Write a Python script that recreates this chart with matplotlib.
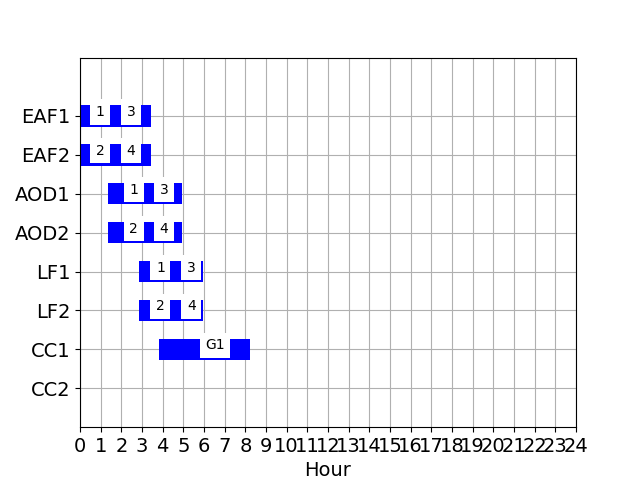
from matplotlib import pyplot as plt

# rows from top to bottom
rows = ["EAF1", "EAF2", "AOD1", "AOD2", "LF1", "LF2", "CC1", "CC2"]

# busy span of each unit (hours)
bar_start = [0.0, 0.0, 1.37, 1.37, 2.85, 2.85, 3.82, None]
bar_end = [3.42, 3.42, 4.92, 4.92, 5.94, 5.94, 8.22, None]

# heat labels and where they sit (hours)
labels = [["1", "3"], ["2", "4"], ["1", "3"], ["2", "4"],
          ["1", "3"], ["2", "4"], ["G1"], []]
label_hours = [[0.97, 2.46], [0.97, 2.46], [2.60, 4.07], [2.60, 4.07],
               [3.89, 5.39], [3.89, 5.39], [6.53], []]

hours = list(range(0, 25))

fig, ax = plt.subplots(figsize=(6.4, 4.8), dpi=100)
ax.set_axisbelow(True)

n = len(rows)
for i, name in enumerate(rows):
    y = n - i
    if bar_start[i] is not None:
        ax.broken_barh([(bar_start[i], bar_end[i] - bar_start[i])],
                       (y - 0.275, 0.55), facecolors="blue")
    for lab, hx in zip(labels[i], label_hours[i]):
        ax.text(hx, y, lab, ha="center", fontsize=10,
                bbox=dict(facecolor="white", edgecolor="none"))

ax.set_ylim(0, n + 1.5)
ax.set_xlim(0, 24)
ax.set_yticks([n - i for i in range(n)])
ax.set_yticklabels(rows, fontsize=14)
ax.set_xticks(hours)
ax.set_xticklabels([str(h) for h in hours], fontsize=14)
ax.set_xlabel("Hour", fontsize=14)
ax.grid(True)

plt.savefig("out.png")
